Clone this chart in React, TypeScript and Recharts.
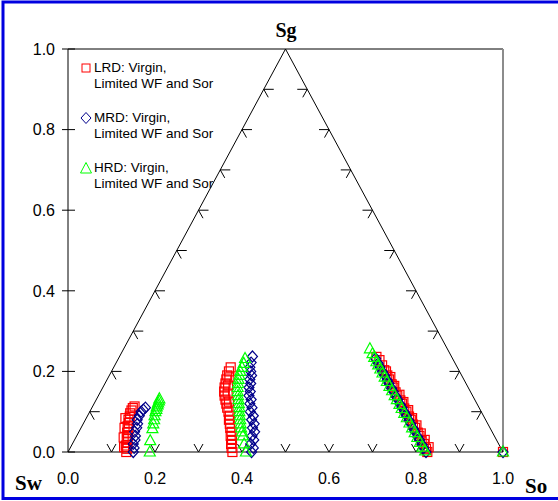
import { ScatterChart, Scatter, XAxis, YAxis, ReferenceLine, Legend } from "recharts";

const SANS = "Arial, 'Liberation Sans', sans-serif";
const SERIF = "'Times New Roman', 'Liberation Serif', serif";
const RED = "#ff0000";
const BLUE = "#00008b";
const GREEN = "#00ff00";

const axisTicks = [0, 0.2, 0.4, 0.6, 0.8, 1.0];

// LRD: red squares
const lrdPoints = [
  { x: 0.134, y: 0.0 }, { x: 0.136, y: 0.008 }, { x: 0.133, y: 0.016 }, { x: 0.137, y: 0.024 },
  { x: 0.135, y: 0.032 }, { x: 0.138, y: 0.04 }, { x: 0.136, y: 0.048 }, { x: 0.139, y: 0.056 },
  { x: 0.137, y: 0.064 }, { x: 0.14, y: 0.072 }, { x: 0.139, y: 0.08 }, { x: 0.142, y: 0.088 },
  { x: 0.143, y: 0.096 }, { x: 0.146, y: 0.103 }, { x: 0.149, y: 0.109 }, { x: 0.153, y: 0.113 },
  { x: 0.129, y: 0.012 }, { x: 0.128, y: 0.036 }, { x: 0.13, y: 0.06 }, { x: 0.132, y: 0.084 },
  { x: 0.378, y: 0.0 }, { x: 0.376, y: 0.01 }, { x: 0.375, y: 0.02 }, { x: 0.377, y: 0.03 },
  { x: 0.374, y: 0.04 }, { x: 0.376, y: 0.05 }, { x: 0.373, y: 0.06 }, { x: 0.372, y: 0.07 },
  { x: 0.37, y: 0.08 }, { x: 0.372, y: 0.09 }, { x: 0.369, y: 0.1 }, { x: 0.366, y: 0.11 },
  { x: 0.364, y: 0.12 }, { x: 0.362, y: 0.13 }, { x: 0.36, y: 0.14 }, { x: 0.359, y: 0.15 },
  { x: 0.36, y: 0.16 }, { x: 0.362, y: 0.17 }, { x: 0.364, y: 0.18 }, { x: 0.366, y: 0.19 },
  { x: 0.37, y: 0.2 }, { x: 0.374, y: 0.21 },
  { x: 0.367, y: 0.145 }, { x: 0.368, y: 0.165 }, { x: 0.371, y: 0.185 }, { x: 0.37, y: 0.125 },
  { x: 0.716, y: 0.228 }, { x: 0.722, y: 0.215 }, { x: 0.727, y: 0.203 }, { x: 0.734, y: 0.19 },
  { x: 0.738, y: 0.18 }, { x: 0.744, y: 0.168 }, { x: 0.748, y: 0.16 }, { x: 0.753, y: 0.148 },
  { x: 0.757, y: 0.14 }, { x: 0.764, y: 0.128 }, { x: 0.768, y: 0.12 }, { x: 0.773, y: 0.108 },
  { x: 0.778, y: 0.1 }, { x: 0.784, y: 0.088 }, { x: 0.788, y: 0.08 }, { x: 0.793, y: 0.068 },
  { x: 0.798, y: 0.06 }, { x: 0.804, y: 0.048 }, { x: 0.808, y: 0.04 }, { x: 0.813, y: 0.028 },
  { x: 0.818, y: 0.02 }, { x: 0.823, y: 0.008 }, { x: 0.826, y: 0.0 },
  { x: 0.709, y: 0.236 }, { x: 0.731, y: 0.2 }, { x: 0.741, y: 0.186 }, { x: 0.75, y: 0.164 },
  { x: 0.762, y: 0.142 }, { x: 0.771, y: 0.124 }, { x: 0.782, y: 0.104 }, { x: 0.791, y: 0.084 },
  { x: 0.801, y: 0.066 }, { x: 0.811, y: 0.046 }, { x: 0.82, y: 0.03 }, { x: 0.829, y: 0.012 },
  { x: 1.0, y: 0.0 },
];

// MRD: blue diamonds
const mrdPoints = [
  { x: 0.15, y: 0.0 }, { x: 0.152, y: 0.01 }, { x: 0.15, y: 0.02 }, { x: 0.154, y: 0.03 },
  { x: 0.155, y: 0.04 }, { x: 0.153, y: 0.05 }, { x: 0.158, y: 0.06 }, { x: 0.16, y: 0.07 },
  { x: 0.159, y: 0.08 }, { x: 0.164, y: 0.09 }, { x: 0.168, y: 0.1 }, { x: 0.173, y: 0.105 },
  { x: 0.178, y: 0.11 },
  { x: 0.422, y: 0.0 }, { x: 0.426, y: 0.01 }, { x: 0.42, y: 0.02 }, { x: 0.427, y: 0.03 },
  { x: 0.423, y: 0.04 }, { x: 0.429, y: 0.05 }, { x: 0.424, y: 0.06 }, { x: 0.428, y: 0.07 },
  { x: 0.422, y: 0.08 }, { x: 0.426, y: 0.09 }, { x: 0.419, y: 0.1 }, { x: 0.423, y: 0.11 },
  { x: 0.418, y: 0.12 }, { x: 0.421, y: 0.13 }, { x: 0.416, y: 0.14 }, { x: 0.419, y: 0.15 },
  { x: 0.416, y: 0.16 }, { x: 0.42, y: 0.17 }, { x: 0.418, y: 0.18 }, { x: 0.422, y: 0.19 },
  { x: 0.42, y: 0.2 }, { x: 0.418, y: 0.21 }, { x: 0.421, y: 0.222 }, { x: 0.424, y: 0.237 },
  { x: 0.707, y: 0.232 }, { x: 0.713, y: 0.22 }, { x: 0.717, y: 0.211 }, { x: 0.723, y: 0.199 },
  { x: 0.728, y: 0.19 }, { x: 0.734, y: 0.178 }, { x: 0.738, y: 0.17 }, { x: 0.744, y: 0.158 },
  { x: 0.748, y: 0.15 }, { x: 0.754, y: 0.138 }, { x: 0.758, y: 0.13 }, { x: 0.764, y: 0.118 },
  { x: 0.768, y: 0.11 }, { x: 0.774, y: 0.098 }, { x: 0.778, y: 0.09 }, { x: 0.784, y: 0.078 },
  { x: 0.788, y: 0.07 }, { x: 0.794, y: 0.058 }, { x: 0.798, y: 0.05 }, { x: 0.804, y: 0.038 },
  { x: 0.808, y: 0.03 }, { x: 0.814, y: 0.018 }, { x: 0.818, y: 0.01 }, { x: 0.823, y: 0.0 },
  { x: 1.0, y: 0.0 },
];

// HRD: green triangles
const hrdPoints = [
  { x: 0.188, y: 0.0 }, { x: 0.189, y: 0.028 }, { x: 0.194, y: 0.058 }, { x: 0.196, y: 0.07 },
  { x: 0.198, y: 0.08 }, { x: 0.199, y: 0.09 }, { x: 0.201, y: 0.1 }, { x: 0.203, y: 0.106 },
  { x: 0.204, y: 0.112 }, { x: 0.206, y: 0.117 }, { x: 0.207, y: 0.122 }, { x: 0.209, y: 0.127 },
  { x: 0.21, y: 0.132 },
  { x: 0.409, y: 0.0 }, { x: 0.405, y: 0.02 }, { x: 0.402, y: 0.04 }, { x: 0.4, y: 0.05 },
  { x: 0.398, y: 0.06 }, { x: 0.397, y: 0.07 }, { x: 0.396, y: 0.08 }, { x: 0.395, y: 0.09 },
  { x: 0.394, y: 0.1 }, { x: 0.394, y: 0.11 }, { x: 0.393, y: 0.12 }, { x: 0.392, y: 0.13 },
  { x: 0.391, y: 0.14 }, { x: 0.39, y: 0.15 }, { x: 0.39, y: 0.16 }, { x: 0.391, y: 0.17 },
  { x: 0.392, y: 0.18 }, { x: 0.394, y: 0.19 }, { x: 0.396, y: 0.2 }, { x: 0.4, y: 0.21 },
  { x: 0.404, y: 0.22 }, { x: 0.407, y: 0.232 },
  { x: 0.694, y: 0.256 }, { x: 0.7, y: 0.244 }, { x: 0.704, y: 0.235 }, { x: 0.709, y: 0.224 },
  { x: 0.713, y: 0.216 }, { x: 0.718, y: 0.206 }, { x: 0.723, y: 0.196 }, { x: 0.728, y: 0.186 },
  { x: 0.733, y: 0.175 }, { x: 0.739, y: 0.163 }, { x: 0.745, y: 0.152 }, { x: 0.751, y: 0.14 },
  { x: 0.756, y: 0.13 }, { x: 0.762, y: 0.118 }, { x: 0.767, y: 0.108 }, { x: 0.773, y: 0.096 },
  { x: 0.779, y: 0.085 }, { x: 0.785, y: 0.072 }, { x: 0.791, y: 0.06 }, { x: 0.797, y: 0.048 },
  { x: 0.803, y: 0.036 }, { x: 0.809, y: 0.024 }, { x: 0.815, y: 0.012 }, { x: 0.821, y: 0.003 },
  { x: 1.0, y: 0.0 },
];

// ternary axis tick positions on the three triangle sides
const baseTicks = [
  { x: 0.1, y: 0 }, { x: 0.2, y: 0 }, { x: 0.3, y: 0 }, { x: 0.4, y: 0 }, { x: 0.5, y: 0 },
  { x: 0.6, y: 0 }, { x: 0.7, y: 0 }, { x: 0.8, y: 0 }, { x: 0.9, y: 0 },
];
const leftTicks = [
  { x: 0.05, y: 0.1 }, { x: 0.1, y: 0.2 }, { x: 0.15, y: 0.3 }, { x: 0.2, y: 0.4 }, { x: 0.25, y: 0.5 },
  { x: 0.3, y: 0.6 }, { x: 0.35, y: 0.7 }, { x: 0.4, y: 0.8 }, { x: 0.45, y: 0.9 },
];
const rightTicks = [
  { x: 0.95, y: 0.1 }, { x: 0.9, y: 0.2 }, { x: 0.85, y: 0.3 }, { x: 0.8, y: 0.4 }, { x: 0.75, y: 0.5 },
  { x: 0.7, y: 0.6 }, { x: 0.65, y: 0.7 }, { x: 0.6, y: 0.8 }, { x: 0.55, y: 0.9 },
];

const seriesNames = [
  "LRD: Virgin,\nLimited WF and Sor",
  "MRD: Virgin,\nLimited WF and Sor",
  "HRD: Virgin,\nLimited WF and Sor",
];

function Square({ cx, cy }: any) {
  return <rect x={cx - 4.5} y={cy - 4.5} width={9} height={9} fill="none" stroke={RED} strokeWidth={1.2} />;
}

function Diamond({ cx, cy }: any) {
  return (
    <path
      d={`M${cx},${cy - 5.5}L${cx + 5},${cy}L${cx},${cy + 5.5}L${cx - 5},${cy}Z`}
      fill="none"
      stroke={BLUE}
      strokeWidth={1.2}
    />
  );
}

function Triangle({ cx, cy }: any) {
  return (
    <path
      d={`M${cx},${cy - 6}L${cx + 5.5},${cy + 4}L${cx - 5.5},${cy + 4}Z`}
      fill="none"
      stroke={GREEN}
      strokeWidth={1.2}
    />
  );
}

const BaseMark = ({ cx, cy }: any) => (
  <path d={`M${cx - 4.5},${cy - 8}L${cx},${cy}L${cx + 4.5},${cy - 8}`} fill="none" stroke="#000" />
);
const LeftMark = ({ cx, cy }: any) => (
  <path d={`M${cx + 10},${cy}L${cx},${cy}L${cx + 4.5},${cy + 8}`} fill="none" stroke="#000" />
);
const RightMark = ({ cx, cy }: any) => (
  <path d={`M${cx - 10},${cy}L${cx},${cy}L${cx - 4.5},${cy + 8}`} fill="none" stroke="#000" />
);

function YTick({ x, y, payload }: any) {
  return (
    <g>
      <line x1={x + 7} x2={x + 20} y1={y} y2={y} stroke="#000" />
      <text x={x} y={y} dy="0.36em" textAnchor="end" fontSize={16} fontFamily={SANS} fill="#000">
        {Number(payload.value).toFixed(1)}
      </text>
    </g>
  );
}

const legendMarks = [
  <rect key="s" x={2} y={2} width={8} height={8} fill="none" stroke={RED} />,
  <path key="d" d="M6,0.5L11,6L6,11.5L1,6Z" fill="none" stroke={BLUE} />,
  <path key="t" d="M6,0.5L11.5,11L0.5,11Z" fill="none" stroke={GREEN} />,
];

function LegendBox() {
  return (
    <div style={{ fontFamily: SANS, fontSize: 13.5, color: "#000" }}>
      {seriesNames.map((name, i) => (
        <div key={name} style={{ position: "relative", height: 50 }}>
          <svg width={12} height={12} style={{ position: "absolute", left: 0, top: 2 }}>
            {legendMarks[i]}
          </svg>
          <div style={{ position: "absolute", left: 14, top: 0, lineHeight: "16px", whiteSpace: "pre" }}>
            {name}
          </div>
        </div>
      ))}
    </div>
  );
}

export default function App() {
  return (
    <div style={{ position: "absolute", left: 0, top: 0, width: 558, height: 501, background: "#fff" }}>
      <ScatterChart width={558} height={501} margin={{ top: 49, right: 55, bottom: 19, left: 8 }}>
        <rect x={3} y={2} width={600} height={496.5} fill="none" stroke="#0000e0" strokeWidth={3} />
        <XAxis
          type="number"
          dataKey="x"
          domain={[0, 1]}
          ticks={axisTicks}
          tickFormatter={(v: number) => v.toFixed(1)}
          axisLine={false}
          tickLine={false}
          tickSize={0}
          tickMargin={21}
          height={30}
          tick={{ fontSize: 16, fill: "#000", fontFamily: SANS }}
        />
        <YAxis
          type="number"
          dataKey="y"
          domain={[0, 1]}
          ticks={axisTicks}
          width={60}
          axisLine={{ stroke: "#000" }}
          tickLine={false}
          tickSize={6}
          tickMargin={7}
          tick={<YTick />}
        />
        <ReferenceLine y={1} stroke="#000" />
        <ReferenceLine x={1} stroke="#8c8c8c" strokeWidth={2} />
        <ReferenceLine y={0} stroke="#000" />
        <ReferenceLine segment={[{ x: 0, y: 0 }, { x: 0.5, y: 1 }]} stroke="#000" />
        <ReferenceLine segment={[{ x: 0.5, y: 1 }, { x: 1, y: 0 }]} stroke="#000" />
        <Scatter data={baseTicks} shape={BaseMark} legendType="none" isAnimationActive={false} />
        <Scatter data={leftTicks} shape={LeftMark} legendType="none" isAnimationActive={false} />
        <Scatter data={rightTicks} shape={RightMark} legendType="none" isAnimationActive={false} />
        <Scatter name={seriesNames[0]} data={lrdPoints} shape={Square} fill={RED} isAnimationActive={false} />
        <Scatter name={seriesNames[1]} data={mrdPoints} shape={Diamond} fill={BLUE} isAnimationActive={false} />
        <Scatter name={seriesNames[2]} data={hrdPoints} shape={Triangle} fill={GREEN} isAnimationActive={false} />
        <Legend
          layout="vertical"
          verticalAlign="middle"
          align="center"
          wrapperStyle={{ left: 80, top: 60, width: 200 }}
          content={<LegendBox />}
        />
        <text x={286} y={37} textAnchor="middle" fontFamily={SERIF} fontWeight="bold" fontSize={20} fill="#000">
          Sg
        </text>
        <text x={15} y={490} fontFamily={SERIF} fontWeight="bold" fontSize={21} fill="#000">
          Sw
        </text>
        <text x={525} y={493} fontFamily={SERIF} fontWeight="bold" fontSize={21} fill="#000">
          So
        </text>
      </ScatterChart>
    </div>
  );
}
